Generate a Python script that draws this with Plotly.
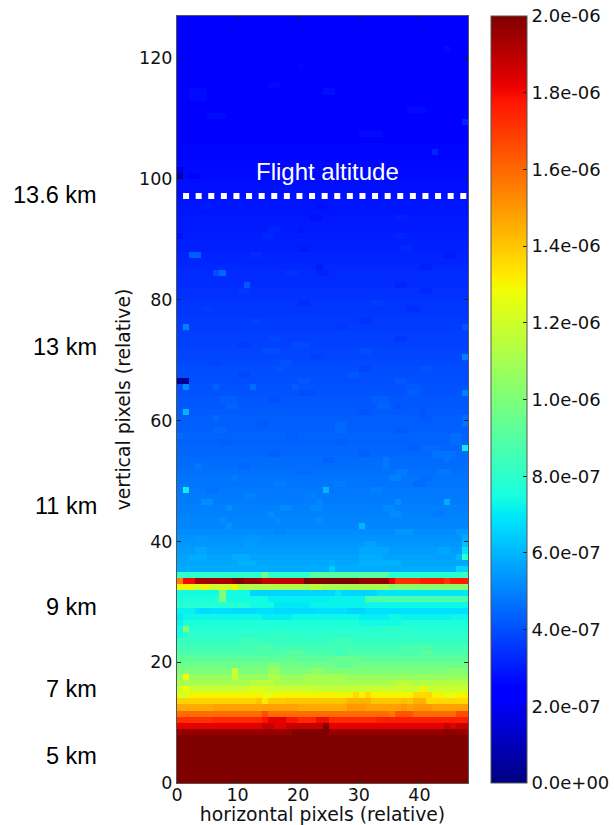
import plotly.graph_objects as go

N_COLS = 48
N_ROWS = 127
VMAX = 2.0e-6
E = 1e-6

# Row mean, bottom row first, in units of 1e-6
row_levels = [
    2.3, 2.3, 2.3, 2.3, 2.3, 2.3, 2.3, 2.3,          # 0-7
    1.96, 1.83, 1.74, 1.59, 1.48, 1.40, 1.30, 1.19,  # 8-15
    1.11, 1.06, 1.00, 0.96, 0.92, 0.88, 0.85, 0.82,  # 16-23
    0.80, 0.78, 0.76, 0.73, 0.68, 0.73, 0.72, 0.68,  # 24-31
    1.10, 1.90, 0.80, 0.58, 0.57, 0.56, 0.55, 0.54,  # 32-39
    0.53, 0.52, 0.51, 0.505, 0.50, 0.495, 0.49, 0.485, # 40-47
    0.48, 0.475, 0.47, 0.465, 0.46, 0.455, 0.45, 0.445, # 48-55
    0.44, 0.44, 0.435, 0.43, 0.43, 0.425, 0.42, 0.415, # 56-63
    0.41, 0.405, 0.40, 0.40, 0.395, 0.39, 0.385, 0.38, # 64-71
    0.375, 0.37, 0.37, 0.365, 0.36, 0.355, 0.35, 0.35, # 72-79
    0.345, 0.34, 0.335, 0.33, 0.33, 0.325, 0.32, 0.315, # 80-87
    0.31, 0.31, 0.305, 0.30, 0.30, 0.295, 0.29, 0.29, # 88-95
    0.285, 0.28, 0.28, 0.275, 0.27, 0.27, 0.265, 0.26, # 96-103
    0.26, 0.255, 0.25, 0.25, 0.25, 0.25, 0.25, 0.25,  # 104-111
    0.25, 0.25, 0.25, 0.25, 0.24, 0.24, 0.24, 0.24,   # 112-119
    0.24, 0.24, 0.24, 0.24, 0.24, 0.24, 0.24,         # 120-126
]

# Runs that differ from the row mean: (row, first column, last column, level)
run_rows = [
    (8, 19, 24, 2.0), (8, 20, 21, 2.03), (8, 44, 45, 1.98),
    (9, 14, 15, 1.88), (9, 18, 23, 1.88), (9, 24, 24, 2.1),
    (9, 44, 44, 1.88), (9, 46, 47, 1.88),
    (10, 14, 14, 1.78), (10, 15, 17, 1.82), (10, 18, 19, 1.78), (10, 23, 24, 1.8),
    (10, 0, 5, 1.72), (10, 33, 47, 1.76),
    (11, 14, 14, 1.66), (11, 35, 35, 1.56), (11, 36, 38, 1.64), (11, 46, 47, 1.66),
    (12, 28, 30, 1.5), (12, 37, 37, 1.5), (12, 39, 41, 1.5),
    (12, 0, 5, 1.46), (12, 20, 27, 1.46),
    (13, 0, 12, 1.37), (13, 14, 14, 1.33), (13, 15, 17, 1.39), (13, 28, 31, 1.44),
    (13, 37, 37, 1.42), (13, 39, 40, 1.44), (13, 41, 47, 1.36),
    (14, 0, 1, 1.23), (14, 14, 15, 1.26), (14, 29, 29, 1.36), (14, 31, 31, 1.36),
    (14, 39, 41, 1.36), (14, 44, 45, 1.26),
    (15, 40, 40, 1.3), (15, 1, 1, 1.28), (15, 12, 14, 1.22), (15, 23, 30, 1.17),
    (16, 12, 15, 1.15), (16, 36, 38, 1.16), (16, 40, 47, 1.14),
    (17, 1, 1, 1.28), (17, 9, 9, 1.18), (17, 15, 16, 1.12), (17, 21, 27, 1.1),
    (18, 9, 9, 1.2), (18, 15, 16, 1.07), (18, 22, 23, 1.04), (18, 45, 46, 1.04),
    (19, 15, 16, 1.01), (19, 26, 28, 0.93),
    (20, 26, 29, 0.94), (20, 18, 18, 0.95),
    (21, 26, 27, 0.85), (21, 18, 20, 0.91), (21, 40, 41, 0.91),
    (22, 13, 15, 0.87), (22, 37, 39, 0.87), (22, 40, 41, 0.87),
    (23, 10, 13, 0.84), (23, 25, 28, 0.84),
    (24, 0, 0, 0.74), (24, 16, 18, 0.82),
    (25, 1, 1, 1.02), (25, 0, 0, 0.74), (25, 33, 37, 0.80),
    (26, 0, 0, 0.72), (26, 30, 36, 0.74),
    (27, 0, 0, 0.70), (27, 14, 18, 0.71), (27, 30, 34, 0.71), (27, 37, 44, 0.72),
    (28, 0, 2, 0.72), (28, 4, 5, 0.67), (28, 9, 12, 0.67), (28, 16, 22, 0.67), (28, 28, 30, 0.66),
    (29, 0, 11, 0.78), (29, 12, 16, 0.74), (29, 16, 21, 0.70), (29, 22, 30, 0.72),
    (30, 7, 7, 1.0), (30, 0, 6, 0.76), (30, 8, 14, 0.74), (30, 15, 24, 0.71), (30, 31, 47, 0.88),
    (31, 0, 6, 0.74), (31, 7, 7, 1.0), (31, 8, 11, 0.74), (31, 12, 25, 0.66), (31, 26, 26, 0.70),
    (31, 27, 32, 0.66), (31, 33, 47, 0.69),
    (32, 0, 2, 1.30), (32, 3, 3, 1.2), (32, 4, 4, 1.30), (32, 5, 8, 1.2), (32, 9, 9, 1.3),
    (32, 10, 20, 1.12), (32, 35, 47, 1.03), (32, 22, 23, 1.15),
    (33, 0, 0, 1.55), (33, 1, 2, 1.80), (33, 3, 8, 1.93), (33, 9, 10, 2.03), (33, 11, 13, 1.95),
    (33, 14, 20, 1.88), (33, 21, 29, 2.02), (33, 30, 34, 1.96), (33, 35, 35, 1.82),
    (33, 36, 39, 1.72), (33, 40, 43, 1.76), (33, 44, 44, 1.70), (33, 45, 47, 1.76),
    (34, 0, 0, 0.82), (34, 14, 14, 0.96), (34, 22, 34, 0.90), (34, 35, 47, 0.78), (34, 47, 47, 0.85),
    (35, 25, 25, 0.64), (35, 46, 47, 0.66),
    (36, 25, 25, 0.59), (36, 10, 12, 0.59), (36, 30, 36, 0.59),
    (37, 47, 47, 0.80), (37, 46, 46, 0.60), (37, 2, 4, 0.58), (37, 9, 11, 0.58), (37, 30, 33, 0.58),
    (38, 47, 47, 0.68), (38, 3, 4, 0.57), (38, 30, 34, 0.57), (38, 43, 44, 0.57),
    (39, 47, 47, 0.62), (39, 31, 32, 0.56), (39, 11, 12, 0.55),
    (40, 11, 13, 0.54), (40, 47, 47, 0.58), (40, 3, 4, 0.54),
    (41, 36, 38, 0.54), (41, 46, 47, 0.54), (41, 16, 17, 0.51),
    (42, 30, 30, 0.60), (42, 8, 8, 0.53),
    (43, 7, 7, 0.52), (43, 16, 16, 0.52), (43, 23, 23, 0.52),
    (44, 15, 15, 0.52), (44, 35, 36, 0.52), (44, 42, 43, 0.485),
    (45, 8, 8, 0.52), (45, 17, 18, 0.515), (45, 22, 23, 0.515), (45, 34, 35, 0.515),
    (46, 4, 5, 0.52), (46, 44, 44, 0.58), (46, 23, 23, 0.51), (46, 36, 36, 0.52),
    (47, 22, 22, 0.50), (47, 11, 12, 0.50),
    (48, 1, 1, 0.72), (48, 24, 24, 0.60), (48, 32, 33, 0.50), (48, 5, 6, 0.465),
    (49, 16, 17, 0.49), (49, 26, 27, 0.49), (49, 39, 40, 0.46),
    (50, 9, 9, 0.49), (50, 35, 36, 0.50), (50, 40, 41, 0.455),
    (51, 36, 37, 0.49), (51, 20, 21, 0.455), (51, 43, 44, 0.48),
    (52, 3, 3, 0.48), (52, 34, 34, 0.48), (52, 10, 11, 0.445),
    (53, 34, 34, 0.48), (53, 44, 44, 0.47), (53, 24, 25, 0.44),
    (54, 42, 45, 0.47), (54, 30, 31, 0.435), (54, 15, 16, 0.435),
    (55, 47, 47, 0.72), (55, 41, 42, 0.46), (55, 38, 39, 0.43),
    (56, 45, 46, 0.46), (56, 26, 27, 0.43), (56, 7, 8, 0.43),
    (57, 0, 0, 0.46), (57, 45, 46, 0.46), (57, 18, 19, 0.43),
    (58, 6, 7, 0.45), (58, 36, 37, 0.42), (58, 26, 27, 0.45),
    (59, 26, 27, 0.45), (59, 47, 47, 0.47), (59, 13, 14, 0.42),
    (60, 6, 6, 0.45), (60, 47, 47, 0.46), (60, 40, 41, 0.415),
    (61, 1, 1, 0.60), (61, 30, 31, 0.41), (61, 40, 40, 0.41),
    (62, 8, 9, 0.44), (62, 33, 34, 0.44), (62, 36, 36, 0.405),
    (63, 7, 9, 0.43), (63, 32, 34, 0.43), (63, 15, 16, 0.40),
    (64, 47, 47, 0.50), (64, 38, 39, 0.43), (64, 20, 22, 0.395),
    (65, 1, 1, 0.52), (65, 6, 6, 0.44), (65, 12, 12, 0.46), (65, 19, 19, 0.43), (65, 38, 39, 0.42),
    (66, 0, 1, 0.04), (66, 20, 21, 0.42), (66, 36, 37, 0.42),
    (67, 28, 29, 0.415), (67, 10, 11, 0.385),
    (68, 16, 17, 0.41), (68, 40, 41, 0.41), (68, 30, 31, 0.38),
    (69, 17, 18, 0.405), (69, 5, 6, 0.38),
    (70, 47, 47, 0.50), (70, 22, 23, 0.37),
    (71, 14, 16, 0.395), (71, 30, 31, 0.395),
    (72, 19, 21, 0.39), (72, 10, 11, 0.36),
    (73, 15, 16, 0.385), (73, 36, 37, 0.355),
    (75, 1, 1, 0.50), (75, 26, 27, 0.35), (75, 47, 47, 0.41),
    (76, 12, 13, 0.375), (76, 30, 31, 0.345),
    (78, 4, 5, 0.365), (78, 38, 39, 0.335),
    (79, 32, 33, 0.365), (79, 20, 21, 0.335),
    (81, 10, 11, 0.355), (81, 40, 41, 0.325),
    (82, 11, 11, 0.42), (82, 36, 37, 0.32),
    (84, 6, 6, 0.40), (84, 7, 7, 0.45), (84, 18, 19, 0.345), (84, 23, 24, 0.315),
    (85, 23, 23, 0.30), (85, 40, 41, 0.31),
    (87, 2, 3, 0.43), (87, 44, 45, 0.30), (87, 12, 13, 0.33),
    (88, 37, 38, 0.325), (88, 20, 21, 0.295),
    (90, 14, 15, 0.32), (90, 36, 37, 0.32), (90, 0, 0, 0.28),
    (91, 15, 16, 0.32), (91, 20, 20, 0.285),
    (93, 36, 37, 0.31), (93, 22, 23, 0.28),
    (95, 23, 24, 0.275), (95, 4, 5, 0.30),
    (101, 0, 0, 0.16), (100, 0, 0, 0.06), (100, 2, 3, 0.25),
    (104, 42, 42, 0.32), (109, 47, 47, 0.32),
    (107, 30, 33, 0.27), (110, 5, 7, 0.27), (111, 38, 40, 0.27),
    (113, 2, 4, 0.265), (114, 2, 4, 0.27), (114, 24, 25, 0.275), (115, 15, 16, 0.265),
    (118, 20, 20, 0.26), (121, 44, 44, 0.27),
]

tick_x = [0, 10, 20, 30, 40]
tick_y = [0, 20, 40, 60, 80, 100, 120]
cbar_vals = [0.0, 0.2, 0.4, 0.6, 0.8, 1.0, 1.2, 1.4, 1.6, 1.8, 2.0]
cbar_text = ["0.0e+00", "2.0e-07", "4.0e-07", "6.0e-07", "8.0e-07", "1.0e-06",
             "1.2e-06", "1.4e-06", "1.6e-06", "1.8e-06", "2.0e-06"]

altitude_labels = ["13.6 km", "13 km", "11 km", "9 km", "7 km", "5 km"]
altitude_label_y = [97.4, 72.2, 45.9, 29.1, 15.6, 4.5]
flight_altitude_y = 97.2
flight_altitude_x = [1, 48]

jet = [
    [0.0, "rgb(0,0,128)"], [0.11, "rgb(0,0,255)"], [0.125, "rgb(0,0,255)"],
    [0.34, "rgb(0,224,255)"], [0.35, "rgb(0,234,245)"], [0.375, "rgb(24,255,223)"],
    [0.64, "rgb(238,255,8)"], [0.65, "rgb(246,245,0)"], [0.66, "rgb(255,236,0)"],
    [0.89, "rgb(255,19,0)"], [0.91, "rgb(232,0,0)"], [1.0, "rgb(128,0,0)"],
]

grid = [[row_levels[r] * E for _ in range(N_COLS)] for r in range(N_ROWS)]
for r, c0, c1, lvl in run_rows:
    for c in range(c0, c1 + 1):
        grid[r][c] = lvl * E

fig = go.Figure()
fig.add_trace(go.Heatmap(
    z=grid,
    x=[c + 0.5 for c in range(N_COLS)],
    y=[r + 0.5 for r in range(N_ROWS)],
    zmin=0, zmax=VMAX,
    colorscale=jet,
    hoverinfo="skip",
    colorbar=dict(
        thickness=36, thicknessmode="pixels",
        len=1, lenmode="fraction",
        x=(491 - 177) / 291, xanchor="left", xpad=0,
        y=0, yanchor="bottom", ypad=0,
        tickmode="array",
        tickvals=[v * E for v in cbar_vals],
        ticktext=cbar_text,
        ticks="inside", ticklen=4, tickcolor="#222",
        tickfont=dict(family="DejaVu Sans", size=18, color="#111"),
        outlinecolor="#555", outlinewidth=1,
        borderwidth=0,
    ),
))
fig.add_trace(go.Scatter(
    x=flight_altitude_x, y=[flight_altitude_y] * 2,
    mode="lines",
    line=dict(color="white", width=6, dash="6px,6.6px"),
    hoverinfo="skip", showlegend=False,
))

annotations = [
    dict(text=t, xref="paper", yref="y", x=(98.5 - 177) / 291, y=y,
         xanchor="right", yanchor="middle", showarrow=False,
         font=dict(family="Liberation Sans", size=23.5, color="black"))
    for t, y in zip(altitude_labels, altitude_label_y)
]
annotations.append(dict(
    text="Flight altitude", xref="x", yref="y", x=12.65, y=101.3,
    xanchor="left", yanchor="middle", showarrow=False,
    font=dict(family="Liberation Sans", size=24, color="white"),
))

axis_common = dict(
    showgrid=False, zeroline=False, showline=True, mirror="ticks",
    linecolor="#555", linewidth=1,
    ticks="inside", ticklen=4, tickcolor="#222",
    tickfont=dict(family="DejaVu Sans", size=17.5, color="#111"),
)
fig.update_layout(
    width=614, height=825, autosize=False,
    margin=dict(l=177, r=146, t=16, b=42, pad=0, autoexpand=False),
    paper_bgcolor="white", plot_bgcolor="white",
    showlegend=False,
    annotations=annotations,
    xaxis=dict(range=[0, N_COLS], tickmode="array", tickvals=tick_x, ticklabelstandoff=-4, **axis_common,
               title=dict(text="horizontal pixels (relative)", standoff=2,
                          font=dict(family="DejaVu Sans", size=18.8, color="#111"))),
    yaxis=dict(range=[0, N_ROWS], tickmode="array", tickvals=tick_y, **axis_common,
               title=dict(text="vertical pixels (relative)", standoff=3,
                          font=dict(family="DejaVu Sans", size=18.8, color="#111"))),
)
fig.write_html("out.html", config=dict(displayModeBar=False),
               post_script="document.body.style.margin='0';document.body.style.overflow='hidden';")
